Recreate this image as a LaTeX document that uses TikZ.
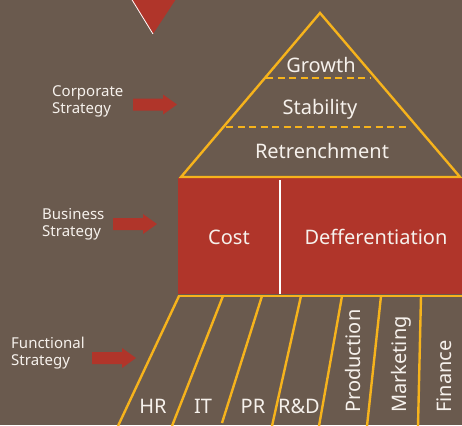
\documentclass[tikz,border=0pt]{standalone}
\usepackage{fontspec}
\setmainfont{Noto Sans}
\definecolor{bgc}{HTML}{6A5A4E}
\definecolor{redc}{HTML}{B0352A}
\definecolor{orc}{HTML}{F6B31C}
\definecolor{txc}{HTML}{F6F1EC}
\begin{document}
\begin{tikzpicture}[x=1pt,y=-1pt,
  orline/.style={draw=orc,line width=2.4pt,line join=miter},
  dashline/.style={draw=orc,line width=2.2pt,dash pattern=on 7pt off 4.5pt},
  bigtext/.style={text=txc,inner sep=0pt,font=\fontsize{20}{24}\selectfont},
  smalltext/.style={text=txc,inner sep=0pt,align=left,font=\fontsize{15}{16.5}\selectfont},
  vtext/.style={bigtext,rotate=90,anchor=base west}]
\useasboundingbox (0,0) rectangle (462,425);
\fill[bgc] (0,0) rectangle (462,425);
% top red triangle
\fill[redc] (131,-1) -- (176,-1) -- (153,34) -- cycle;
\draw[white,line width=0.8pt] (131.5,-1) -- (153,34);
% red rectangle
\fill[redc] (178,178) rectangle (463,294);
\draw[white,line width=1.2pt] (280,180) -- (280,294);
% pyramid
\draw[orline] (181,177) -- (320,13) -- (460,177) -- cycle;
\draw[dashline] (266,78) -- (370,78);
\draw[dashline] (226,127) -- (410,127);
% functional lines
\draw[orline] (178,296) -- (463,296);
\draw[orline] (179,296) -- (118,426);
\draw[orline] (223,296) -- (172,426);
\draw[orline] (262,296) -- (222,423);
\draw[orline] (301,296) -- (272,426);
\draw[orline] (342,296) -- (319,426);
\draw[orline] (381,296) -- (367,426);
\draw[orline] (421,296) -- (418,426);
% arrows
\foreach \ax/\ay in {133/104.5,113/224,92/358}{
  \fill[redc] (\ax,\ay-6) -- (\ax+30,\ay-6) -- (\ax+30,\ay-10) -- (\ax+44,\ay)
     -- (\ax+30,\ay+10) -- (\ax+30,\ay+6) -- (\ax,\ay+6) -- cycle;
}
% pyramid texts
\node[bigtext,anchor=base] (growth) at (321,73) {Growth};
\node[bigtext,anchor=base] (stab) at (320,114) {Stability};
\node[bigtext,anchor=base] (retr) at (322,158) {Retrenchment};
\node[bigtext,anchor=base] (cost) at (229,244) {Cost};
\node[bigtext,anchor=base] (diff) at (376,244) {Defferentiation};
% functional texts
\node[bigtext,anchor=base] (hr) at (153,413) {HR};
\node[bigtext,anchor=base] (it) at (203,413) {IT};
\node[bigtext,anchor=base] (pr) at (253,413) {PR};
\node[bigtext,anchor=base] (rd) at (299,413) {R\&D};
\node[vtext] (prod) at (360,413) {Production};
\node[vtext] (mark) at (406,413) {Marketing};
\node[vtext] (fin) at (451,413) {Finance};
% left labels (base = last line)
\node[smalltext,anchor=base west] (corp) at (52,113) {Corporate\\Strategy};
\node[smalltext,anchor=base west] (bus) at (42,236) {Business\\Strategy};
\node[smalltext,anchor=base west] (func) at (11,365) {Functional\\Strategy};
\end{tikzpicture}
\end{document}
